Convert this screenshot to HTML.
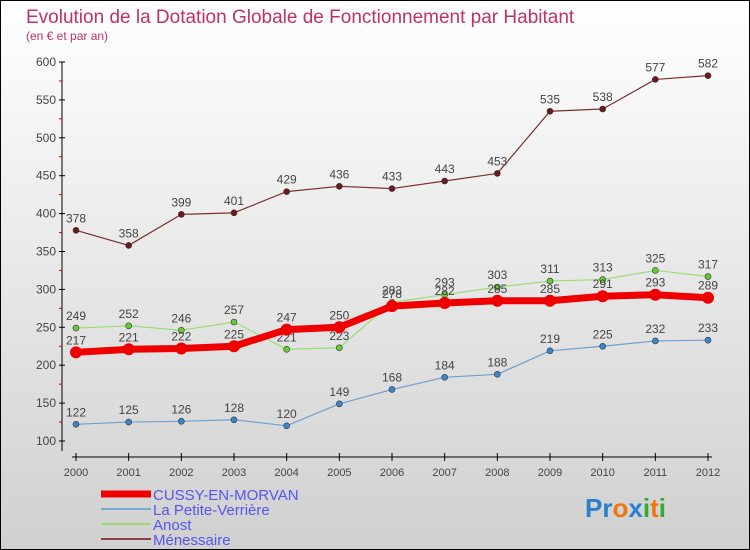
<!DOCTYPE html>
<html><head><meta charset="utf-8"><style>
body{margin:0}
#c{width:750px;height:550px;position:relative;background:linear-gradient(#ffffff,#d0d0d0);box-sizing:border-box;border:1px solid #000;overflow:hidden;font-family:"Liberation Sans",sans-serif}
svg{position:absolute;left:0;top:0}
</style></head><body>
<div id="c">
<svg id="s" width="750" height="550">
<text x="25" y="22" font-size="19" fill="#c0306a">Evolution de la Dotation Globale de Fonctionnement par Habitant</text>
<text x="25" y="39" font-size="12" fill="#c0306a">(en € et par an)</text>
</svg>
</div>
<script>
const years=[2000,2001,2002,2003,2004,2005,2006,2007,2008,2009,2010,2011,2012];
const yTicks=[100,150,200,250,300,350,400,450,500,550,600];
const cussy=[217,221,222,225,247,250,278,282,285,285,291,293,289];
const petite=[122,125,126,128,120,149,168,184,188,219,225,232,233];
const anost=[249,252,246,257,221,223,283,293,303,311,313,325,317];
const menes=[378,358,399,401,429,436,433,443,453,535,538,577,582];
const svg=document.getElementById('s');const NS='http://www.w3.org/2000/svg';
function X(i){return 75+i*(707-75)/12;}
function Y(v){return 440-(v-100)*(440-61)/500;}
function mk(t,a,p){const e=document.createElementNS(NS,t);for(const k in a)e.setAttribute(k,a[k]);(p||svg).appendChild(e);return e;}
// axes
let ax=mk('line',{x1:61,y1:61,x2:61,y2:450,stroke:'#000'});


ax=mk('line',{x1:71,y1:456,x2:711,y2:456,stroke:'#000'});


yTicks.forEach(v=>{mk('line',{x1:58,y1:Y(v),x2:64,y2:Y(v),stroke:'#000'});
 if(v<600)mk('line',{x1:58,y1:Y(v+25),x2:61,y2:Y(v+25),stroke:'#c00'});
 const t=mk('text',{x:55,y:Y(v)+4,'text-anchor':'end','font-size':12,fill:'#444'});t.textContent=v;
 
 });
years.forEach((y,i)=>{mk('line',{x1:X(i),y1:452,x2:X(i),y2:460,stroke:'#000'});
 const t=mk('text',{x:X(i),y:475,'text-anchor':'middle','font-size':11,fill:'#444'});t.textContent=y;
 
 });
function series(d,color,dot,w,r,name){
 const g=mk('g',{});
 
 
 mk('polyline',{points:d.map((v,i)=>X(i)+','+Y(v)).join(' '),fill:'none',stroke:color,'stroke-width':w,'stroke-linejoin':'round'},g);
 d.forEach((v,i)=>{const c=mk('circle',{cx:X(i),cy:Y(v),r:r,fill:dot,stroke:'#333','stroke-width':r>4?0:0.6},g);
  
  
  const t=mk('text',{x:X(i),y:Y(v)-8,'text-anchor':'middle','font-size':12,fill:'#444'},g);t.textContent=v;
  
  });
}
series(menes,'#7a3030','#6a1a1a',1.2,3,'menessaire-series');
series(petite,'#6fa0cc','#3a86c8',1.2,3,'petite-verriere-series');
series(anost,'#99dd77','#66cc33',1.2,3,'anost-series');
series(cussy,'#ee0000','#ee0000',7,6,'cussy-series');
// legend
const leg=[['CUSSY-EN-MORVAN','#ee0000',7],['La Petite-Verrière','#7aaacc',2],['Anost','#99dd77',2],['Ménessaire','#884444',2]];
leg.forEach((l,i)=>{const y=493+i*15;
 mk('line',{x1:100,y1:y,x2:150,y2:y,stroke:l[1],'stroke-width':l[2]});
 const t=mk('text',{x:152,y:y+6,'font-size':15,fill:'#5555ee'});t.textContent=l[0];
 
 });
const lg=mk('text',{x:584,y:516,'font-size':26,'font-weight':'bold'});


[['P','#2a7fcf'],['r','#2a7fcf'],['o','#ee7711'],['x','#2a7fcf'],['i','#33aa33'],['t','#ee7711'],['i','#33aa33']].forEach(p=>{const s=mk('tspan',{fill:p[1]},lg);s.textContent=p[0];});
</script>
</body></html>
